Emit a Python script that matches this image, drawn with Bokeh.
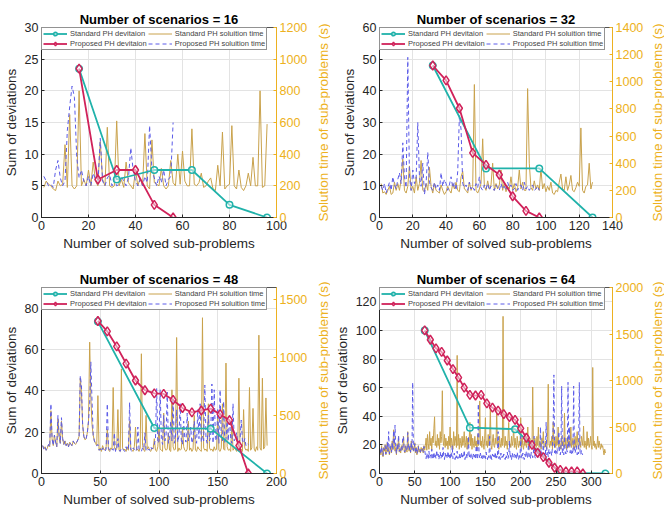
from bokeh.plotting import figure
from bokeh.models import Range1d, LinearAxis, Legend, LegendItem, FixedTicker
from bokeh.layouts import gridplot
from bokeh.embed import file_html
from bokeh.resources import INLINE

# ---------------- data ----------------
# 16 scenarios
s16_std_x = [16, 32, 48, 64, 80, 96]
s16_std_dev = [23.5, 6, 7.5, 7.5, 2, 0]
s16_prop_x = [16, 24, 32, 40, 48, 56]
s16_prop_dev = [23.5, 6, 7.5, 7.5, 2, 0]
s16_std_time = [190, 230, 210, 200, 180, 170, 230, 200, 210, 460,
                190, 650, 200, 180, 200, 800, 200, 240, 200, 300,
                200, 350, 230, 200, 480, 240, 200, 570, 200, 190,
                200, 610, 200, 240, 190, 350, 220, 200, 180, 300,
                200, 250, 200, 530, 200, 180, 490, 220, 210, 200,
                310, 200, 180, 200, 360, 220, 200, 400, 210, 420,
                230, 200, 200, 560, 210, 200, 220, 280, 190, 200,
                230, 250, 180, 170, 330, 200, 540, 180, 200, 210,
                580, 200, 180, 300, 190, 170, 200, 280, 200, 380,
                200, 200, 800, 190, 200, 590]
s16_prop_time = [260, 230, 200, 210, 190, 300, 360, 250, 200, 230,
                 550, 700, 830, 760, 380, 250, 300, 230, 200, 260,
                 200, 280, 240, 210, 500, 230, 200, 250, 270, 200,
                 240, 200, 210, 260, 230, 200, 250, 440, 300, 230,
                 200, 240, 200, 260, 220, 580, 300, 250, 200, 260,
                 220, 300, 200, 240, 260, 600]

# 32 scenarios
s32_std_x = [32, 64, 96, 128]
s32_std_dev = [48, 15.5, 15.5, 0]
s32_prop_x = [32, 40, 48, 56, 64, 72, 80, 88, 96]
s32_prop_dev = [48, 43.3, 34.5, 20.4, 16.6, 13.5, 6.7, 2.1, 0]
s32_std_time = [250, 180, 190, 170, 200, 230, 170, 180, 260, 200,
                250, 200, 280, 430, 200, 180, 230, 380, 200, 230,
                180, 300, 200, 250, 420, 200, 190, 250, 200, 370,
                230, 180, 250, 200, 190, 180, 240, 200, 170, 190,
                230, 200, 180, 250, 210, 260, 200, 190, 300, 340,
                210, 200, 180, 260, 200, 230, 980, 200, 180, 210,
                250, 580, 230, 200, 270, 210, 240, 400, 200, 250,
                210, 240, 350, 200, 260, 190, 230, 210, 300, 200,
                250, 190, 220, 350, 210, 260, 200, 200, 950, 400,
                220, 200, 270, 210, 240, 200, 360, 210, 250, 190,
                230, 200, 260, 180, 170, 200, 190, 260, 320, 210,
                200, 300, 200, 240, 310, 200, 190, 220, 260, 230,
                660, 200, 180, 230, 240, 400, 210, 260]
s32_prop_time = [230, 200, 250, 180, 220, 260, 200, 300, 240, 210,
                 280, 330, 250, 550, 300, 220, 1180, 300, 200, 350,
                 250, 280, 700, 300, 230, 400, 170, 250, 480, 260,
                 220, 200, 260, 210, 240, 200, 330, 230, 280, 250,
                 200, 240, 300, 220, 260, 200, 340, 750, 650, 250,
                 220, 240, 200, 260, 210, 230, 200, 250, 220, 300,
                 220, 200, 240, 210, 250, 200, 230, 210, 200, 240,
                 220, 200, 250, 210, 230, 200, 260, 220, 240, 200,
                 210, 250, 200, 230, 240, 200, 260, 210, 230, 200,
                 220, 240, 200, 210, 230, 200]

# 48 scenarios
s48_std_x = [48, 96, 144, 192]
s48_std_dev = [73.5, 22, 21.7, 0]
s48_prop_x = [48, 56, 64, 72, 80, 88, 96, 104, 112, 120, 128, 136, 144, 152, 160, 168, 176]
s48_prop_dev = [73.8, 68.8, 61.5, 53.2, 45, 40.3, 38.8, 38.5, 35.6, 31.7, 29.6, 30.5, 31.4, 28.7, 25.8, 13.5, 0]
s48_std_time = [240, 210, 230, 200, 220, 250, 230, 540, 300, 240, 330, 270, 230, 470, 320, 260,
                450, 300, 250, 280, 240, 260, 230, 270, 250, 240, 280, 260, 250, 270, 290, 320,
                820, 700, 420, 320, 290, 300, 350, 450, 1130, 650, 420, 330, 280, 260, 240, 670,
                200, 220, 190, 240, 210, 200, 230, 380, 200, 190, 220, 210, 740, 230, 200, 210,
                550, 200, 190, 900, 220, 200, 210, 190, 230, 200, 450, 210, 200, 190, 230, 400,
                200, 210, 190, 220, 1030, 240, 200, 190, 500, 210, 230, 200, 190, 220, 210, 300,
                200, 190, 230, 400, 210, 200, 190, 520, 220, 200, 210, 350, 200, 190, 720, 230,
                200, 210, 1170, 190, 220, 200, 210, 400, 230, 200, 190, 210, 450, 200, 220, 190,
                210, 500, 200, 190, 230, 210, 200, 190, 1340, 220, 200, 210, 190, 600, 220, 200,
                210, 190, 230, 200, 210, 500, 200, 190, 220, 600, 210, 200, 950, 230, 200, 210,
                190, 450, 200, 220, 210, 190, 230, 820, 200, 210, 190, 550, 220, 200, 210, 190,
                740, 200, 220, 560, 210, 190, 230, 200, 1190, 220, 200, 820, 210, 230, 650, 240]
s48_prop_time = [240, 210, 230, 200, 220, 250, 230, 600, 300, 240, 330, 270, 230, 500, 320, 260,
                 480, 300, 250, 280, 240, 260, 230, 270, 250, 240, 280, 260, 250, 270, 290, 320,
                 840, 760, 420, 320, 290, 300, 350, 450, 600, 960, 620, 330, 280, 260, 240, 250,
                 200, 210, 190, 220, 200, 190, 210, 600, 220, 200, 190, 210, 200, 350, 190, 210,
                 300, 200, 190, 220, 210, 200, 190, 230, 200, 210, 610, 200, 190, 220, 210, 200,
                 190, 400, 210, 200, 190, 220, 210, 350, 200, 190, 210, 200, 230, 210, 220, 250,
                 300, 730, 260, 280, 720, 300, 250, 500, 280, 320, 700, 260, 300, 450, 280, 650,
                 260, 300, 550, 270, 320, 600, 280, 250, 450, 300, 270, 520, 280, 310, 400, 260,
                 300, 450, 280, 260, 550, 300, 600, 270, 320, 280, 760, 300, 260, 500, 280, 320,
                 770, 260, 720, 300, 280, 550, 260, 720, 300, 280, 620, 260, 300, 450, 280, 500,
                 300, 260, 600, 280, 300, 350, 270, 260, 300, 460, 280, 260, 300, 240, 260, 250]

# 64 scenarios
s64_std_x = [64, 128, 192, 256, 320]
s64_std_dev = [100, 32, 31, 0.5, 0]
s64_prop_x = [64, 72, 80, 88, 96, 104, 112, 120, 128, 136, 144, 152, 160, 168, 176,
              184, 192, 200, 208, 216, 224, 232, 240, 248, 256, 264, 272, 280, 288]
s64_prop_dev = [100, 93.5, 87.5, 85, 79, 73, 67, 60, 55, 54.5, 55, 49, 46, 44, 41.5,
                39.5, 37.5, 31.5, 25, 20, 14.5, 11.5, 7.5, 4, 2.5, 1.5, 1.5, 1.5, 0]
s64_std_time = [250, 200, 300, 220, 180, 280, 240, 310, 200, 260, 330, 230, 280, 200, 250, 300,
                220, 350, 260, 470, 300, 240, 280, 200, 320, 260, 400, 230, 270, 220, 300, 250,
                280, 400, 250, 220, 300, 260, 230, 450, 280, 240, 300, 220, 350, 260, 300, 240,
                260, 330, 220, 280, 200, 250, 300, 230, 260, 220, 280, 240, 270, 220, 300, 250,
                300, 380, 250, 420, 320, 260, 450, 300, 380, 250, 400, 330, 480, 610, 300, 350,
                280, 420, 300, 380, 260, 450, 330, 400, 890, 350, 300, 420, 280, 380, 300, 350,
                260, 400, 300, 500, 280, 380, 320, 260, 450, 300, 400, 350, 280, 1270, 300, 420,
                260, 380, 320, 280, 400, 300, 350, 450, 280, 330, 400, 260, 380, 300, 350, 550,
                300, 420, 260, 380, 320, 280, 400, 300, 350, 260, 420, 300, 380, 780, 300, 350,
                280, 400, 320, 260, 380, 600, 300, 350, 280, 420, 300, 380, 700, 300, 260, 350,
                420, 300, 280, 380, 320, 690, 300, 350, 260, 400, 320, 280, 380, 300, 1690, 350,
                280, 400, 300, 350, 260, 380, 550, 300, 320, 280, 400, 300, 350, 500, 280, 380,
                300, 260, 400, 320, 280, 350, 300, 600, 280, 380, 300, 260, 350, 300, 400, 280,
                320, 500, 300, 260, 380, 300, 350, 280, 930, 300, 260, 380, 320, 280, 400, 300,
                500, 280, 350, 300, 260, 380, 320, 450, 300, 280, 350, 300, 260, 400, 960, 320,
                280, 350, 300, 400, 260, 550, 300, 350, 280, 400, 300, 320, 500, 280, 350, 300,
                260, 400, 300, 350, 280, 650, 300, 380, 260, 320, 400, 280, 350, 300, 500, 280,
                320, 380, 260, 300, 400, 280, 350, 450, 300, 260, 380, 320, 280, 400, 350, 300,
                510, 280, 350, 300, 260, 450, 300, 380, 280, 320, 400, 300, 260, 1140, 300, 350,
                280, 320, 260, 300, 400, 280, 350, 300, 260, 320, 280, 300, 250, 200, 260, 220]
s64_prop_time = [260, 210, 290, 230, 190, 270, 250, 300, 210, 250, 340, 240, 450, 210, 240, 290,
                 230, 340, 250, 460, 310, 520, 270, 210, 310, 250, 410, 240, 260, 230, 290, 260,
                 400, 390, 240, 230, 290, 250, 240, 440, 270, 250, 290, 230, 340, 250, 980, 250,
                 250, 320, 230, 270, 210, 240, 290, 240, 250, 230, 270, 250, 260, 230, 290, 250,
                 200, 160, 220, 180, 150, 240, 170, 200, 160, 260, 180, 150, 230, 170, 200, 160,
                 250, 180, 210, 150, 190, 230, 160, 200, 170, 280, 190, 150, 220, 170, 200, 160,
                 240, 170, 200, 150, 210, 180, 300, 160, 190, 220, 150, 200, 170, 240, 160, 190,
                 210, 150, 180, 230, 160, 200, 170, 250, 150, 190, 210, 160, 180, 400, 170, 200,
                 160, 220, 180, 150, 210, 170, 200, 160, 300, 180, 150, 750, 200, 170, 220, 160,
                 190, 150, 210, 170, 200, 160, 230, 180, 150, 200, 170, 400, 160, 190, 150, 210,
                 170, 200, 160, 230, 150, 190, 170, 450, 160, 200, 150, 220, 170, 190, 160, 210,
                 180, 150, 200, 170, 230, 160, 190, 350, 170, 200, 150, 220, 180, 160, 210, 170,
                 200, 160, 230, 180, 150, 210, 170, 400, 190, 160, 220, 180, 150, 210, 170, 240,
                 190, 160, 350, 180, 210, 160, 230, 200, 170, 220, 400, 180, 160, 230, 200, 170,
                 260, 190, 210, 500, 180, 240, 200, 350, 170, 220, 190, 550, 200, 240, 180, 260,
                 210, 250, 230, 190, 300, 500, 1060, 220, 260, 200, 240, 210, 280, 450, 230, 200,
                 250, 940, 220, 270, 200, 400, 240, 210, 260, 230, 980, 280, 500, 220, 260, 200,
                 240, 210, 940, 250, 220, 260, 300, 200, 240, 210, 980, 230, 200, 250, 210, 200]

titles = ["Number of scenarios = 16", "Number of scenarios = 32",
          "Number of scenarios = 48", "Number of scenarios = 64"]
legend_labels = ["Standard PH devitaion", "Proposed PH devitaion",
                 "Standard PH soluition time", "Proposed PH soluition time"]
x_label = "Number of solved sub-problems"
yl_label = "Sum of deviations"
yr_label = "Solution time of sub-problems (s)"

# ---------------- styling ----------------
TEAL = "#20B2AA"
CRIMSON = "#D0225A"
GOLD_LINE = "#C9A24C"
BLUE = "#5B5BE8"
GOLD_AX = "#EDB120"
DARK = "#262626"
FONT = "Liberation Sans"
STRIP_W = 18


def make(title, xmax, ylmax, yrmax, xt, ylt, yrt,
         sx, sy, px, py, st, pt, w, h, bl, br, bt, bb):
    p = figure(width=w, height=h, x_range=Range1d(0, xmax), y_range=Range1d(0, ylmax),
               output_backend="svg", toolbar_location=None,
               min_border_left=bl, min_border_right=br, min_border_top=bt, min_border_bottom=bb)
    p.extra_y_ranges = {"t": Range1d(0, yrmax)}
    p.title.text = title
    p.title.align = "center"
    p.title.text_font = FONT
    p.title.text_font_size = "13px"
    p.title.text_font_style = "bold"
    p.title.text_color = "#000000"
    p.title.standoff = 2
    p.outline_line_color = DARK
    p.outline_line_width = 0.8

    t_std = p.line(list(range(1, len(st) + 1)), st, y_range_name="t",
                   line_color=GOLD_LINE, line_width=1)
    t_prop = p.line(list(range(1, len(pt) + 1)), pt, y_range_name="t",
                    line_color=BLUE, line_width=1, line_dash="4 3")
    l_std = p.line(sx, sy, line_color=TEAL, line_width=1.8)
    m_std = p.scatter(sx, sy, marker="circle", size=6.5, line_color=TEAL, line_width=1.5,
                      fill_color="white", fill_alpha=0.5)
    l_prop = p.line(px, py, line_color=CRIMSON, line_width=1.8)
    m_prop = p.scatter(px, py, marker="diamond", size=9, line_color=CRIMSON, line_width=1.5,
                       fill_color="white", fill_alpha=0.5)

    ax = p.xaxis[0]
    ax.ticker = FixedTicker(ticks=xt)
    ax.axis_label = x_label
    ay = p.yaxis[0]
    ay.ticker = FixedTicker(ticks=ylt)
    ay.axis_label = yl_label
    ar = LinearAxis(y_range_name="t", ticker=FixedTicker(ticks=yrt))
    p.add_layout(ar, "right")
    for a in (ax, ay, ar):
        a.major_label_text_font = FONT
        a.major_label_text_font_size = "12.5px"
        a.axis_label_text_font = FONT
        a.axis_label_text_font_size = "13.5px"
        a.axis_label_text_font_style = "normal"
        a.major_tick_in = 3
        a.major_tick_out = 0
        a.minor_tick_line_color = None
        a.major_label_standoff = 3
        a.axis_label_standoff = 3
    for a in (ax, ay):
        a.axis_line_color = DARK
        a.major_tick_line_color = DARK
        a.major_label_text_color = DARK
        a.axis_label_text_color = DARK
    ar.axis_line_color = GOLD_AX
    ar.major_tick_line_color = GOLD_AX
    ar.major_label_text_color = GOLD_AX

    p.xgrid.grid_line_color = "#E3E3E3"
    p.ygrid.grid_line_color = "#E3E3E3"
    p.xgrid.ticker = FixedTicker(ticks=xt)
    p.ygrid.ticker = FixedTicker(ticks=ylt)

    items = [LegendItem(label=legend_labels[0], renderers=[l_std, m_std]),
             LegendItem(label=legend_labels[1], renderers=[l_prop, m_prop]),
             LegendItem(label=legend_labels[2], renderers=[t_std]),
             LegendItem(label=legend_labels[3], renderers=[t_prop])]
    leg = Legend(items=items, ncols=2, location="top_left")
    leg.label_text_font = FONT
    leg.label_text_font_size = "7.5px"
    leg.label_height = 9
    leg.glyph_height = 9
    leg.glyph_width = 24
    leg.label_standoff = 3
    leg.spacing = 1
    leg.padding = 1
    leg.margin = 0
    leg.border_line_color = DARK
    leg.border_line_width = 0.8
    leg.background_fill_alpha = 1
    p.add_layout(leg)
    return p


def strip(h, bt, bb, yrmax):
    """Narrow companion panel carrying the right-hand axis title (reads bottom-to-top)."""
    s = figure(width=STRIP_W, height=h, x_range=Range1d(0, 1), y_range=Range1d(0, yrmax),
               output_backend="svg", toolbar_location=None,
               min_border_left=STRIP_W - 1, min_border_right=0,
               min_border_top=bt, min_border_bottom=bb)
    s.outline_line_color = None
    s.xaxis.visible = False
    s.xgrid.visible = False
    s.ygrid.visible = False
    a = s.yaxis[0]
    a.ticker = FixedTicker(ticks=[])
    a.axis_line_color = None
    a.major_tick_line_color = None
    a.minor_tick_line_color = None
    a.major_label_standoff = 0
    a.axis_label_standoff = 0
    a.axis_label = yr_label
    a.axis_label_text_font = FONT
    a.axis_label_text_font_size = "13.5px"
    a.axis_label_text_font_style = "normal"
    a.axis_label_text_color = GOLD_AX
    return s


p1 = make(titles[0], 100, 30, 1200, list(range(0, 101, 20)), list(range(0, 31, 5)),
          list(range(0, 1201, 200)), s16_std_x, s16_std_dev, s16_prop_x, s16_prop_dev,
          s16_std_time, s16_prop_time, 312, 256, 41, 36, 27, 39)
p2 = make(titles[1], 140, 60, 1400, list(range(0, 141, 20)), list(range(0, 61, 10)),
          list(range(0, 1401, 200)), s32_std_x, s32_std_dev, s32_prop_x, s32_prop_dev,
          s32_std_time, s32_prop_time, 316, 256, 49, 31, 27, 39)
p3 = make(titles[2], 200, 90, 1600, list(range(0, 201, 50)), list(range(0, 81, 20)),
          [0, 500, 1000, 1500], s48_std_x, s48_std_dev, s48_prop_x, s48_prop_dev,
          s48_std_time, s48_prop_time, 312, 255, 41, 34, 31, 38)
p4 = make(titles[3], 330, 130, 2000, list(range(0, 301, 50)), list(range(0, 121, 20)),
          list(range(0, 2001, 500)), s64_std_x, s64_std_dev, s64_prop_x, s64_prop_dev,
          s64_std_time, s64_prop_time, 316, 255, 49, 31, 31, 38)

q1 = strip(256, 27, 39, 1200)
q2 = strip(256, 27, 39, 1400)
q3 = strip(255, 31, 38, 1600)
q4 = strip(255, 31, 38, 2000)

grid = gridplot([[p1, q1, p2, q2], [p3, q3, p4, q4]], toolbar_location=None)
open("out.html", "w").write(file_html(grid, INLINE))
